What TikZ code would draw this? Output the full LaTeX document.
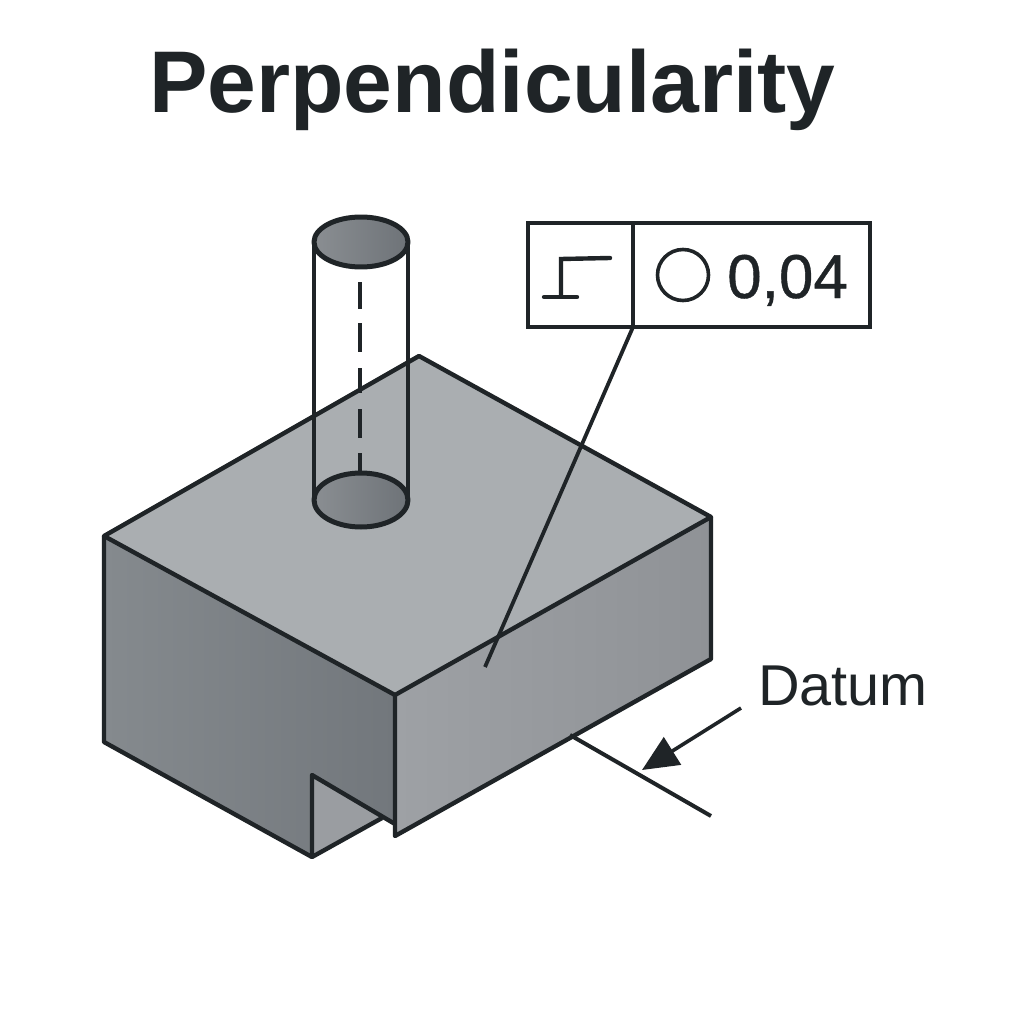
\documentclass[tikz,border=0pt]{standalone}
\usepackage{fontspec}
\setmainfont{Liberation Sans}
\newfontfamily\heavyfont{Liberation Sans}[FakeBold=0.6]
\usetikzlibrary{arrows.meta}
\definecolor{ink}{HTML}{1F2427}
\definecolor{topc}{HTML}{AAAEB1}
\definecolor{rightl}{HTML}{9EA1A5}
\definecolor{rightd}{HTML}{8F9296}
\definecolor{leftl}{HTML}{858A8E}
\definecolor{leftd}{HTML}{72777C}
\definecolor{notchc}{HTML}{9A9DA1}
\definecolor{holel}{HTML}{8A8E92}
\definecolor{holed}{HTML}{6E7378}
\tikzset{
  x=1pt,y=-1pt,
  edge/.style={draw=ink,line width=4.4pt,line join=round},
  cell/.style={draw=ink,line width=4pt,minimum height=104pt,inner sep=0pt,outer sep=0pt,anchor=north west},
  label/.style={text=ink,inner sep=0pt,anchor=base west},
}
\begin{document}
\begin{tikzpicture}
\useasboundingbox (0,0) rectangle (1024,1024);
\fill[white] (0,0) rectangle (1024,1024);
\node[label,font=\bfseries\fontsize{87.6}{88}\selectfont] (title) at (149,113) {Perpendicularity};
% faces
\shade[left color=leftl,right color=leftd] (104,536) -- (395,695) -- (395,826) -- (312,775) -- (312,857) -- (104,742) -- cycle;
\fill[notchc] (312,775) -- (385,818) -- (312,857) -- cycle;
\shade[left color=rightl,right color=rightd] (395,695) -- (711,517) -- (711,659) -- (395,836) -- cycle;
\fill[topc] (419,356) -- (711,517) -- (395,695) -- (104,536) -- cycle;
% outlines
\draw[edge] (419,356) -- (711,517) -- (395,695) -- (104,536) -- cycle;
\draw[edge] (104,536) -- (104,742) -- (312,857) -- (382,818);
\draw[edge] (312,857) -- (312,775) -- (395,824);
\draw[edge] (395,695) -- (395,836) -- (711,659) -- (711,517);
% cylinder
\draw[edge] (314,242) -- (314,500);
\draw[edge] (408,242) -- (408,500);
\foreach \a/\b in {282/309,323/352,368/393,409/438,453/473}
  \draw[draw=ink,line width=4.4pt] (360,\a) -- (360,\b);
\shade[edge,line width=5pt,left color=holel,right color=holed] (361,242) ellipse [x radius=47,y radius=25];
\shade[edge,line width=5pt,left color=holel,right color=holed] (361,500) ellipse [x radius=47,y radius=27];
% frame
\node[cell,minimum width=105pt] (sym) at (528,223) {};
\node[cell,minimum width=237pt] (val) at (633,223) {};
\draw[draw=ink,line width=4.4pt,line cap=round] (610,258) -- (561,259) -- (561,296);
\draw[draw=ink,line width=4.4pt,line cap=round] (544,297) -- (577,297);
\draw[draw=ink,line width=3.6pt] (683,275) circle [radius=25.5];
\node[label,font=\heavyfont\fontsize{62}{62}\selectfont] (tol) at (727,298) {0,04};
% leader
\coordinate (leaderend) at (485,667);
\draw[draw=ink,line width=3.8pt] (val.south west) -- (leaderend);
% datum
\node[label,font=\fontsize{57.6}{58}\selectfont] (datum) at (758,705) {Datum};
\coordinate (dfoot) at (570,735);
\coordinate (dend) at (711,816);
\coordinate (atail) at (741,708);
\coordinate (ahead) at (642,770);
\draw[draw=ink,line width=4pt] (dfoot) -- (dend);
\draw[draw=ink,line width=3.6pt,-{Triangle[length=36pt,width=32pt]}] (atail) -- (ahead);
\end{tikzpicture}
\end{document}
